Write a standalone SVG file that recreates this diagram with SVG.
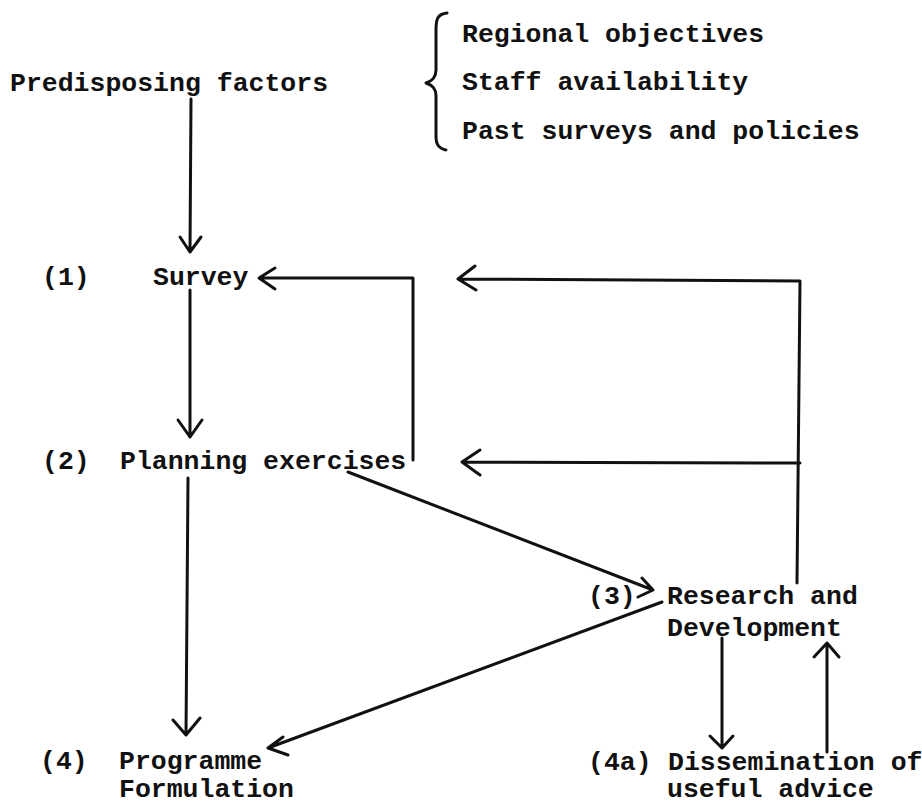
<svg xmlns="http://www.w3.org/2000/svg" width="922" height="804" viewBox="0 0 922 804">
<style>
text{font-family:"Liberation Mono","DejaVu Sans Mono",monospace;font-size:26.5px;font-weight:bold;fill:#111}
.ln{stroke:#111;stroke-width:3;fill:none;stroke-linecap:round;stroke-linejoin:round}
</style>
<rect width="922" height="804" fill="#fff"/>
<g id="predisposing"><text x="10" y="91">Predisposing factors</text></g>
<g id="factors">
<path class="ln" d="M447,13 C437,14 436,20 436,30 L436,70 C436,78 432,81 426,83 C432,85 436,88 436,96 L436,136 C436,144 438,148 446,150" stroke-width="3.5"/>
<text x="462" y="42">Regional objectives</text>
<text x="462" y="90">Staff availability</text>
<text x="462" y="139">Past surveys and policies</text>
</g>
<g id="n1"><text x="42" y="285">(1)</text><text x="153" y="285">Survey</text></g>
<g id="n2"><text x="42" y="469">(2)</text><text x="120" y="469">Planning exercises</text></g>
<g id="n3"><text x="588" y="604">(3)</text><text x="667" y="604">Research and</text><text x="667" y="636">Development</text></g>
<g id="n4"><text x="40" y="769">(4)</text><text x="119" y="769">Programme</text><text x="119" y="797">Formulation</text></g>
<g id="n4a"><text x="588" y="770">(4a)</text><text x="668" y="770">Dissemination of</text><text x="667" y="797">useful advice</text></g>
<g id="connectors">
<path class="ln" d="M191,99 L190,252 M180,237 L190,252 L201,237"/>
<path class="ln" d="M190,290 L190,437 M178,420 L190,437 L202,420"/>
<path class="ln" d="M413,460 L413,278 L259,278 M275,268 L259,278 L275,289"/>
<path class="ln" d="M797,583 L800,281 L458,279 M475,266 L458,279 L476,290"/>
<path class="ln" d="M800,463 L462,462 M480,450 L462,462 L480,475"/>
<path class="ln" d="M348,472 L653,590 M642,578 L653,590 L638,597"/>
<path class="ln" d="M662,602 L268,748 M283,737 L268,748 L288,755"/>
<path class="ln" d="M188,478 L186,735 M173,720 L186,735 L200,718"/>
<path class="ln" d="M722,638 L722,748 M710,736 L722,748 L733,736"/>
<path class="ln" d="M827,752 L827,643 M814,657 L827,643 L839,657"/>
</g>
</svg>
